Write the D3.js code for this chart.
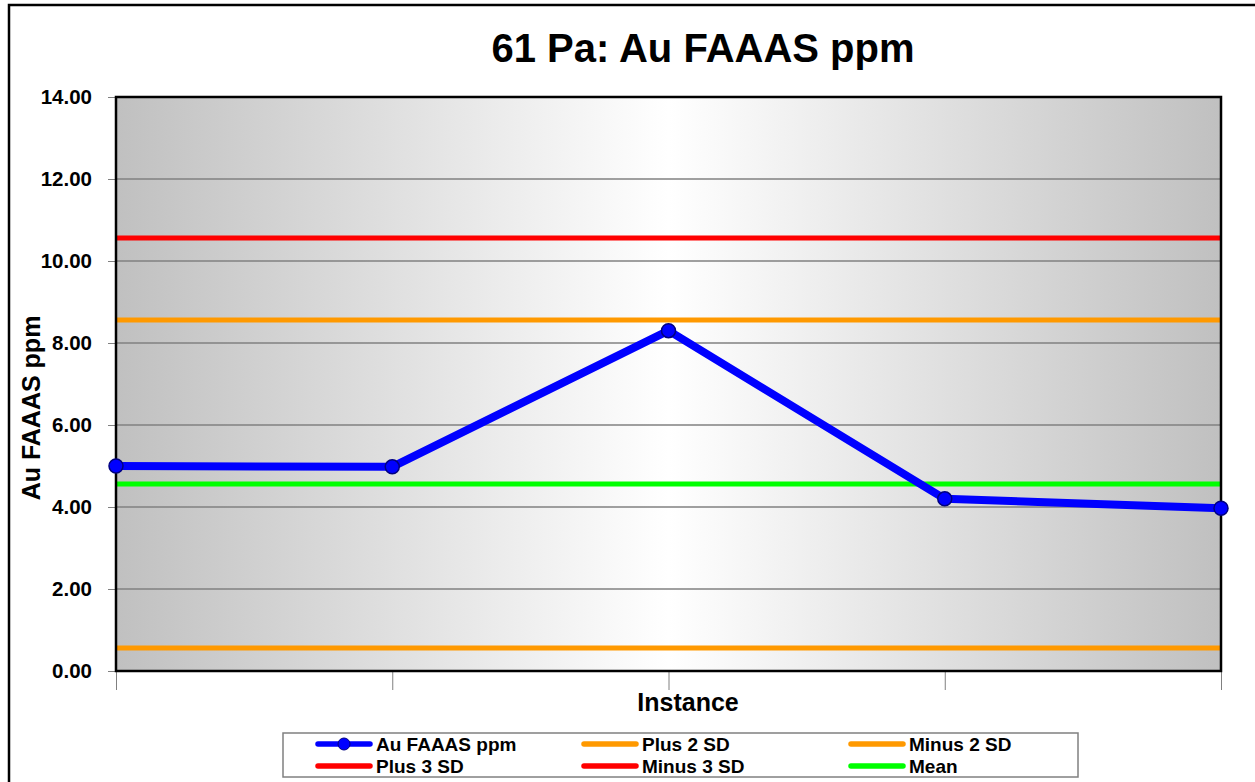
<!DOCTYPE html>
<html>
<head>
<meta charset="utf-8">
<title>61 Pa: Au FAAAS ppm</title>
<script src="https://cdn.jsdelivr.net/npm/d3@7"></script>
<style>
  body { margin: 0; background: #fff; }
  text { font-family: Arial, "Liberation Sans", sans-serif; font-weight: bold; }
</style>
</head>
<body>
<div id="container"></div>
<script>
// data
var instances = [1, 2, 3, 4, 5]
var auValues = [5.00, 4.98, 8.30, 4.20, 3.97]
var meanVal = 4.56
var plus2SD = 8.56
var minus2SD = 0.56
var plus3SD = 10.56
var minus3SD = -1.44
var yTicks = [0, 2, 4, 6, 8, 10, 12, 14]

var refLines = [
  { name: "Plus 2 SD", value: plus2SD, color: "#ff9900" },
  { name: "Minus 2 SD", value: minus2SD, color: "#ff9900" },
  { name: "Plus 3 SD", value: plus3SD, color: "#ff0000" },
  { name: "Minus 3 SD", value: minus3SD, color: "#ff0000" },
  { name: "Mean", value: meanVal, color: "#00ff00" }
]

var W = 1255, H = 782
var margin = { top: 97, right: 34, bottom: 111, left: 116 }
var w = W - margin.left - margin.right,
    h = H - margin.top - margin.bottom

var svg = d3.select("#container").append("svg")
    .attr("width", W).attr("height", H)

// outer chart border (right / bottom run off the picture)
svg.append("rect")
    .attr("x", 9).attr("y", 5).attr("width", W + 20).attr("height", H + 20)
    .attr("fill", "none").attr("stroke", "#000").attr("stroke-width", 2.5)

var defs = svg.append("defs")
var grad = defs.append("linearGradient").attr("id", "bg")
    .attr("x1", "0%").attr("x2", "100%").attr("y1", "0%").attr("y2", "0%")
grad.append("stop").attr("offset", "0%").attr("stop-color", "#c0c0c0")
grad.append("stop").attr("offset", "50%").attr("stop-color", "#ffffff")
grad.append("stop").attr("offset", "100%").attr("stop-color", "#c0c0c0")

var g = svg.append("g").attr("transform", "translate(" + margin.left + "," + margin.top + ")")

var x = d3.scalePoint().domain(instances).range([0, w])
var y = d3.scaleLinear().domain([0, 14]).range([h, 0])

g.append("rect").attr("width", w).attr("height", h).attr("fill", "url(#bg)")

// gridlines
g.selectAll(".grid").data(yTicks.slice(1, -1)).enter().append("line")
    .attr("x1", 0).attr("x2", w)
    .attr("y1", function(d) { return y(d) }).attr("y2", function(d) { return y(d) })
    .attr("stroke", "#808080").attr("stroke-width", 1.5)

// axes
var yAxis = d3.axisLeft(y).tickValues(yTicks).tickSize(8).tickPadding(16)
    .tickFormat(d3.format(".2f"))
var ya = g.append("g").call(yAxis)
ya.select(".domain").remove()
ya.selectAll("line").attr("stroke", "#808080")
ya.selectAll("text").style("font-size", "20.5px").attr("fill", "#000")

var xAxis = d3.axisBottom(x).tickSize(19).tickFormat("")
var xa = g.append("g").attr("transform", "translate(0," + h + ")").call(xAxis)
xa.select(".domain").remove()
xa.selectAll("line").attr("stroke", "#808080")

// clip for reference lines
defs.append("clipPath").attr("id", "clip").append("rect")
    .attr("width", w).attr("height", h)

var plot = g.append("g").attr("clip-path", "url(#clip)")
plot.selectAll(".ref").data(refLines).enter().append("line")
    .attr("x1", x(instances[0])).attr("x2", x(instances[instances.length - 1]))
    .attr("y1", function(d) { return y(d.value) }).attr("y2", function(d) { return y(d.value) })
    .attr("stroke", function(d) { return d.color }).attr("stroke-width", 5)

// plot border
g.append("rect").attr("width", w).attr("height", h)
    .attr("fill", "none").attr("stroke", "#000").attr("stroke-width", 2.5)

var line = d3.line()
    .x(function(d, i) { return x(instances[i]) })
    .y(function(d) { return y(d) })

g.append("path").datum(auValues).attr("d", line)
    .attr("fill", "none").attr("stroke", "#0000ff").attr("stroke-width", 8)
    .attr("stroke-linejoin", "round")

g.selectAll(".pt").data(auValues).enter().append("circle")
    .attr("cx", function(d, i) { return x(instances[i]) })
    .attr("cy", function(d) { return y(d) })
    .attr("r", 7).attr("fill", "#0000ff").attr("stroke", "#000080").attr("stroke-width", 1.5)

// titles
svg.append("text").attr("x", 703).attr("y", 62).attr("text-anchor", "middle")
    .style("font-size", "40px").text("61 Pa: Au FAAAS ppm")
svg.append("text").attr("x", 688).attr("y", 711).attr("text-anchor", "middle")
    .style("font-size", "25px").text("Instance")
svg.append("text").attr("transform", "translate(40,408) rotate(-90)")
    .attr("text-anchor", "middle").style("font-size", "25px").text("Au FAAAS ppm")

// legend
var legend = svg.append("g")
legend.append("rect").attr("x", 283).attr("y", 733).attr("width", 795).attr("height", 44)
    .attr("fill", "#fff").attr("stroke", "#808080").attr("stroke-width", 1.5)

var legendItems = [
  { name: "Au FAAAS ppm", color: "#0000ff", marker: true },
  refLines[0], refLines[1], refLines[2], refLines[3], refLines[4]
]
var colX = [318, 584, 851], rowY = [744, 766]
legendItems.forEach(function(d, i) {
  var cx = colX[i % 3], cy = rowY[Math.floor(i / 3)]
  var item = legend.append("g")
  item.append("line").attr("x1", cx).attr("x2", cx + 52).attr("y1", cy).attr("y2", cy)
      .attr("stroke", d.color).attr("stroke-width", 5.5).attr("stroke-linecap", "round")
  if (d.marker) {
    item.append("circle").attr("cx", cx + 26).attr("cy", cy).attr("r", 6)
        .attr("fill", "#0000ff").attr("stroke", "#000080")
  }
  item.append("text").attr("x", cx + 58).attr("y", cy + 7)
      .style("font-size", "19px").text(d.name)
})
</script>
</body>
</html>
